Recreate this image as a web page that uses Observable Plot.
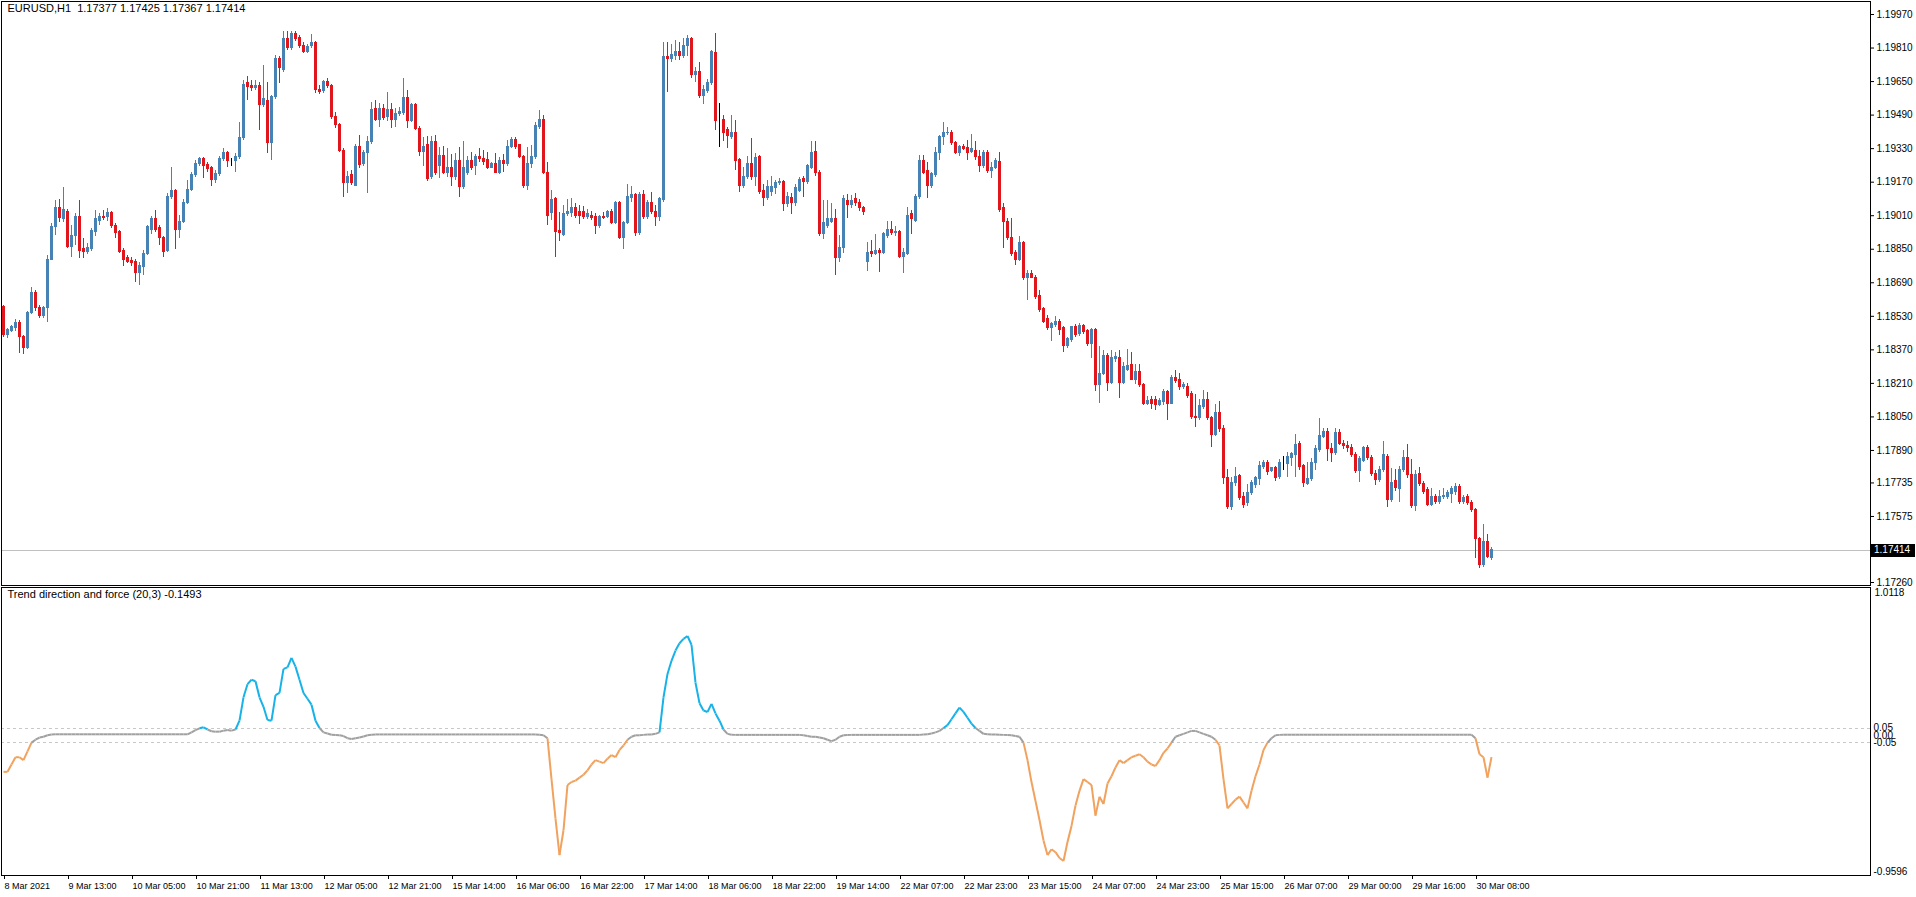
<!DOCTYPE html>
<html><head><meta charset="utf-8">
<script src="https://cdn.jsdelivr.net/npm/d3@7"></script>
<script src="https://cdn.jsdelivr.net/npm/@observablehq/plot@0.6"></script>
<style>
html,body{margin:0;padding:0;background:#fff;}
#chart{width:1916px;height:897px;overflow:hidden;background:#fff;}
#chart svg{display:block;}
</style></head><body><div id="chart"></div>
<script>
const symbol = "EURUSD,H1";
const headerValues = ["1.17377", "1.17425", "1.17367", "1.17414"];
const indicatorName = "Trend direction and force (20,3)";
const indicatorLast = "-0.1493";

const opens = [
1.18573,1.18439,1.18458,1.18472,1.18500,1.18430,1.18377,1.18544,1.18643,1.18568,
1.18530,1.18568,1.18801,1.18954,1.19045,1.18992,1.19030,1.18863,1.18911,1.19002,
1.18849,1.18839,1.18849,1.18930,1.18987,1.19006,1.19002,1.19021,1.18963,1.18930,
1.18844,1.18806,1.18796,1.18791,1.18739,1.18763,1.18829,1.18944,1.18992,1.18949,
1.18902,1.18844,1.19097,1.19126,1.18944,1.18982,1.19073,1.19135,1.19202,1.19259,
1.19279,1.19250,1.19236,1.19178,1.19207,1.19279,1.19307,1.19264,1.19269,1.19288,
1.19379,1.19641,1.19627,1.19617,1.19631,1.19536,1.19555,1.19355,1.19574,1.19760,
1.19703,1.19851,1.19808,1.19879,1.19856,1.19822,1.19793,1.19818,1.19832,1.19612,
1.19603,1.19646,1.19627,1.19479,1.19441,1.19321,1.19164,1.19202,1.19154,1.19336,
1.19255,1.19307,1.19360,1.19517,1.19469,1.19517,1.19479,1.19512,1.19469,1.19493,
1.19498,1.19570,1.19464,1.19536,1.19426,1.19316,1.19345,1.19193,1.19360,1.19245,
1.19293,1.19212,1.19240,1.19193,1.19269,1.19145,1.19216,1.19269,1.19245,1.19288,
1.19279,1.19274,1.19240,1.19255,1.19216,1.19269,1.19255,1.19336,1.19369,1.19345,
1.19288,1.19150,1.19259,1.19288,1.19431,1.19469,1.19216,1.19021,1.19088,1.18935,
1.18916,1.19016,1.19021,1.19045,1.19026,1.19026,1.19002,1.19011,1.19006,1.18959,
1.19006,1.19006,1.19030,1.18973,1.19069,1.18902,1.18973,1.19093,1.19107,1.18926,
1.19111,1.19002,1.19073,1.19030,1.19002,1.19083,1.19765,1.19760,1.19774,1.19793,
1.19774,1.19818,1.19851,1.19679,1.19698,1.19579,1.19603,1.19641,1.19784,1.19464,
1.19469,1.19417,1.19384,1.19403,1.19274,1.19154,1.19193,1.19255,1.19193,1.19288,
1.19126,1.19093,1.19121,1.19140,1.19164,1.19169,1.19064,1.19093,1.19073,1.19130,
1.19183,1.19169,1.19240,1.19316,1.19216,1.18921,1.18963,1.18982,1.18992,1.18806,
1.18854,1.19078,1.19059,1.19088,1.19073,1.19045,1.18787,1.18839,1.18829,1.18844,
1.18834,1.18911,1.18944,1.18926,1.18930,1.18815,1.18829,1.19016,1.18987,1.19097,
1.19269,1.19221,1.19154,1.19202,1.19307,1.19384,1.19403,1.19407,1.19355,1.19311,
1.19336,1.19331,1.19316,1.19321,1.19288,1.19245,1.19307,1.19221,1.19240,1.19264,
1.19045,1.18978,1.18902,1.18834,1.18801,1.18878,1.18715,1.18730,1.18715,1.18629,
1.18563,1.18515,1.18472,1.18487,1.18505,1.18472,1.18386,1.18415,1.18477,1.18444,
1.18482,1.18458,1.18396,1.18463,1.18200,1.18257,1.18343,1.18214,1.18324,1.18329,
1.18214,1.18276,1.18300,1.18228,1.18262,1.18200,1.18114,1.18129,1.18129,1.18105,
1.18119,1.18167,1.18114,1.18238,1.18224,1.18195,1.18195,1.18157,1.18052,1.18043,
1.18095,1.18133,1.18043,1.17966,1.18067,1.17990,1.17757,1.17618,1.17733,1.17766,
1.17666,1.17637,1.17685,1.17723,1.17752,1.17809,1.17832,1.17790,1.17804,1.17761,
1.17828,1.17823,1.17856,1.17866,1.17923,1.17814,1.17728,1.17752,1.17828,1.17890,
1.17956,1.17980,1.17895,1.17880,1.17971,1.17923,1.17909,1.17904,1.17866,1.17790,
1.17842,1.17900,1.17856,1.17780,1.17747,1.17795,1.17861,1.17656,1.17742,1.17704,
1.17795,1.17852,1.17771,1.17623,1.17776,1.17728,1.17699,1.17628,1.17666,1.17642,
1.17666,1.17666,1.17680,1.17690,1.17718,1.17642,1.17666,1.17637,1.17604,1.17466,
1.17342,1.17451,1.17377];

const highs = [
1.18582,1.18472,1.18487,1.18515,1.18510,1.18439,1.18553,1.18667,1.18653,1.18582,
1.18577,1.18820,1.18973,1.19083,1.19088,1.19145,1.19040,1.18963,1.19021,1.19083,
1.18902,1.18878,1.18949,1.19035,1.19021,1.19035,1.19045,1.19030,1.18973,1.18940,
1.18854,1.18820,1.18811,1.18801,1.18787,1.18844,1.18963,1.19006,1.19035,1.18963,
1.18911,1.19116,1.19240,1.19135,1.19011,1.19088,1.19178,1.19216,1.19274,1.19288,
1.19288,1.19264,1.19245,1.19226,1.19293,1.19331,1.19316,1.19283,1.19307,1.19455,
1.19655,1.19674,1.19655,1.19655,1.19645,1.19727,1.19645,1.19584,1.19774,1.19769,
1.19889,1.19889,1.19889,1.19889,1.19870,1.19837,1.19827,1.19875,1.19841,1.19631,
1.19655,1.19665,1.19636,1.19503,1.19450,1.19331,1.19221,1.19226,1.19350,1.19393,
1.19321,1.19388,1.19550,1.19560,1.19545,1.19541,1.19598,1.19545,1.19522,1.19526,
1.19665,1.19608,1.19545,1.19545,1.19436,1.19384,1.19388,1.19388,1.19393,1.19336,
1.19340,1.19331,1.19302,1.19307,1.19336,1.19364,1.19293,1.19311,1.19302,1.19331,
1.19321,1.19311,1.19264,1.19307,1.19288,1.19302,1.19369,1.19384,1.19384,1.19350,
1.19298,1.19336,1.19345,1.19455,1.19512,1.19488,1.19264,1.19130,1.19097,1.19026,
1.19059,1.19088,1.19093,1.19069,1.19059,1.19054,1.19040,1.19030,1.19021,1.19011,
1.19026,1.19035,1.19040,1.19078,1.19078,1.18982,1.19159,1.19150,1.19116,1.19121,
1.19130,1.19083,1.19121,1.19059,1.19097,1.19837,1.19837,1.19827,1.19846,1.19837,
1.19856,1.19870,1.19860,1.19717,1.19741,1.19631,1.19660,1.19798,1.19879,1.19545,
1.19488,1.19431,1.19488,1.19464,1.19283,1.19240,1.19293,1.19379,1.19307,1.19298,
1.19159,1.19178,1.19197,1.19178,1.19188,1.19178,1.19121,1.19116,1.19159,1.19193,
1.19197,1.19255,1.19364,1.19364,1.19226,1.19083,1.19083,1.19069,1.19040,1.18916,
1.19107,1.19111,1.19107,1.19116,1.19088,1.19054,1.18882,1.18892,1.18921,1.18854,
1.18930,1.18982,1.18982,1.18959,1.18940,1.18854,1.19049,1.19035,1.19111,1.19298,
1.19298,1.19264,1.19216,1.19336,1.19393,1.19455,1.19431,1.19417,1.19364,1.19345,
1.19350,1.19369,1.19398,1.19364,1.19321,1.19321,1.19321,1.19264,1.19283,1.19311,
1.19069,1.18997,1.18997,1.18844,1.18911,1.18887,1.18749,1.18749,1.18725,1.18653,
1.18573,1.18534,1.18500,1.18530,1.18515,1.18482,1.18430,1.18482,1.18491,1.18496,
1.18491,1.18467,1.18472,1.18472,1.18386,1.18367,1.18353,1.18367,1.18357,1.18367,
1.18310,1.18372,1.18357,1.18300,1.18300,1.18209,1.18148,1.18148,1.18148,1.18138,
1.18181,1.18176,1.18248,1.18272,1.18257,1.18214,1.18209,1.18171,1.18157,1.18133,
1.18176,1.18167,1.18052,1.18109,1.18124,1.18009,1.17799,1.17761,1.17809,1.17776,
1.17690,1.17728,1.17747,1.17766,1.17837,1.17842,1.17842,1.17809,1.17814,1.17847,
1.17861,1.17880,1.17880,1.17966,1.17933,1.17823,1.17832,1.17851,1.17914,1.18043,
1.17995,1.17995,1.17923,1.17995,1.17990,1.17938,1.17933,1.17918,1.17880,1.17861,
1.17909,1.17914,1.17866,1.17795,1.17814,1.17933,1.17871,1.17804,1.17799,1.17814,
1.17890,1.17918,1.17847,1.17795,1.17809,1.17742,1.17713,1.17709,1.17680,1.17699,
1.17709,1.17699,1.17718,1.17733,1.17728,1.17675,1.17680,1.17652,1.17614,1.17475,
1.17537,1.17489,1.17425];

const lows = [
1.18430,1.18425,1.18453,1.18458,1.18353,1.18348,1.18372,1.18539,1.18553,1.18520,
1.18520,1.18500,1.18796,1.18916,1.18978,1.18978,1.18854,1.18811,1.18868,1.18806,
1.18806,1.18825,1.18839,1.18911,1.18963,1.18987,1.18982,1.18949,1.18902,1.18829,
1.18768,1.18782,1.18768,1.18691,1.18677,1.18725,1.18820,1.18921,1.18930,1.18868,
1.18811,1.18834,1.19088,1.18849,1.18902,1.18973,1.19064,1.19126,1.19193,1.19245,
1.19188,1.19216,1.19150,1.19164,1.19197,1.19269,1.19240,1.19245,1.19216,1.19279,
1.19369,1.19560,1.19603,1.19608,1.19417,1.19526,1.19307,1.19274,1.19565,1.19641,
1.19693,1.19798,1.19798,1.19841,1.19808,1.19784,1.19784,1.19808,1.19594,1.19589,
1.19594,1.19617,1.19469,1.19426,1.19311,1.19097,1.19116,1.19154,1.19150,1.19236,
1.19245,1.19116,1.19350,1.19460,1.19431,1.19464,1.19460,1.19426,1.19431,1.19484,
1.19488,1.19426,1.19455,1.19417,1.19293,1.19245,1.19173,1.19183,1.19202,1.19188,
1.19207,1.19193,1.19150,1.19178,1.19097,1.19135,1.19202,1.19226,1.19202,1.19264,
1.19250,1.19231,1.19236,1.19212,1.19207,1.19216,1.19245,1.19331,1.19326,1.19283,
1.19140,1.19130,1.19236,1.19279,1.19422,1.19207,1.18963,1.18987,1.18811,1.18887,
1.18911,1.19006,1.19002,1.18997,1.18968,1.18992,1.18992,1.18987,1.18921,1.18949,
1.18992,1.18997,1.18968,1.18968,1.18897,1.18849,1.18968,1.19073,1.18911,1.18916,
1.18992,1.18992,1.19016,1.18959,1.18982,1.19073,1.19598,1.19741,1.19751,1.19751,
1.19760,1.19769,1.19665,1.19646,1.19570,1.19541,1.19594,1.19631,1.19417,1.19336,
1.19364,1.19331,1.19374,1.19226,1.19121,1.19140,1.19183,1.19178,1.19150,1.19111,
1.19054,1.19083,1.19102,1.19111,1.19154,1.19030,1.19049,1.19016,1.19054,1.19121,
1.19097,1.19159,1.19231,1.19197,1.18911,1.18897,1.18949,1.18973,1.18725,1.18787,
1.18829,1.18997,1.19045,1.19054,1.19030,1.19011,1.18744,1.18811,1.18820,1.18739,
1.18825,1.18902,1.18916,1.18911,1.18806,1.18734,1.18820,1.18921,1.18978,1.19088,
1.19207,1.19093,1.19140,1.19193,1.19274,1.19345,1.19393,1.19345,1.19302,1.19293,
1.19321,1.19274,1.19307,1.19274,1.19216,1.19236,1.19212,1.19188,1.19231,1.19026,
1.18854,1.18892,1.18815,1.18772,1.18791,1.18701,1.18606,1.18711,1.18611,1.18548,
1.18496,1.18463,1.18410,1.18477,1.18439,1.18357,1.18377,1.18405,1.18430,1.18434,
1.18444,1.18386,1.18329,1.18171,1.18114,1.18248,1.18171,1.18205,1.18310,1.18138,
1.18205,1.18267,1.18224,1.18205,1.18190,1.18105,1.18105,1.18086,1.18081,1.18100,
1.18105,1.18033,1.18109,1.18209,1.18176,1.18181,1.18138,1.18038,1.18000,1.18033,
1.18086,1.18033,1.17904,1.17956,1.17975,1.17728,1.17609,1.17604,1.17718,1.17652,
1.17614,1.17623,1.17675,1.17709,1.17723,1.17799,1.17771,1.17785,1.17742,1.17752,
1.17795,1.17761,1.17814,1.17761,1.17795,1.17713,1.17723,1.17742,1.17795,1.17880,
1.17947,1.17837,1.17832,1.17866,1.17914,1.17895,1.17880,1.17856,1.17780,1.17737,
1.17832,1.17842,1.17766,1.17723,1.17737,1.17785,1.17618,1.17642,1.17695,1.17642,
1.17785,1.17757,1.17614,1.17599,1.17718,1.17680,1.17623,1.17623,1.17633,1.17633,
1.17656,1.17656,1.17637,1.17675,1.17633,1.17633,1.17628,1.17594,1.17375,1.17327,
1.17332,1.17375,1.17367];

const closes = [
1.18439,1.18463,1.18477,1.18500,1.18430,1.18377,1.18544,1.18643,1.18568,1.18530,
1.18568,1.18801,1.18954,1.19045,1.18997,1.19035,1.18863,1.18911,1.19002,1.18844,
1.18839,1.18854,1.18935,1.18992,1.19006,1.18997,1.19021,1.18963,1.18926,1.18839,
1.18801,1.18791,1.18782,1.18739,1.18768,1.18829,1.18954,1.18992,1.18940,1.18902,
1.18839,1.19097,1.19126,1.18944,1.18982,1.19073,1.19135,1.19202,1.19259,1.19279,
1.19245,1.19231,1.19178,1.19207,1.19279,1.19307,1.19269,1.19264,1.19288,1.19379,
1.19636,1.19622,1.19617,1.19631,1.19536,1.19565,1.19355,1.19574,1.19760,1.19713,
1.19851,1.19808,1.19879,1.19851,1.19818,1.19793,1.19813,1.19832,1.19608,1.19598,
1.19646,1.19627,1.19479,1.19441,1.19321,1.19164,1.19197,1.19164,1.19340,1.19250,
1.19307,1.19360,1.19512,1.19469,1.19517,1.19474,1.19512,1.19469,1.19493,1.19507,
1.19570,1.19464,1.19536,1.19422,1.19316,1.19340,1.19183,1.19360,1.19212,1.19293,
1.19216,1.19240,1.19193,1.19269,1.19145,1.19236,1.19269,1.19240,1.19288,1.19279,
1.19264,1.19240,1.19255,1.19216,1.19269,1.19255,1.19336,1.19369,1.19336,1.19288,
1.19150,1.19259,1.19288,1.19436,1.19469,1.19216,1.19011,1.19083,1.18930,1.18926,
1.19016,1.19030,1.19045,1.19011,1.19011,1.19006,1.19016,1.18997,1.18959,1.19002,
1.18997,1.19026,1.18973,1.19069,1.18902,1.18973,1.19097,1.19107,1.18926,1.19107,
1.19002,1.19069,1.19026,1.19002,1.19088,1.19765,1.19756,1.19779,1.19793,1.19774,
1.19818,1.19851,1.19679,1.19698,1.19579,1.19608,1.19641,1.19789,1.19460,1.19464,
1.19407,1.19388,1.19403,1.19269,1.19154,1.19193,1.19255,1.19193,1.19283,1.19121,
1.19093,1.19145,1.19145,1.19164,1.19169,1.19064,1.19097,1.19073,1.19140,1.19178,
1.19169,1.19245,1.19311,1.19216,1.18921,1.18973,1.18992,1.18992,1.18806,1.18854,
1.19088,1.19059,1.19078,1.19069,1.19045,1.19026,1.18834,1.18829,1.18844,1.18834,
1.18921,1.18944,1.18926,1.18930,1.18815,1.18834,1.19011,1.18992,1.19097,1.19269,
1.19216,1.19154,1.19207,1.19311,1.19384,1.19407,1.19407,1.19355,1.19311,1.19336,
1.19326,1.19311,1.19326,1.19288,1.19245,1.19307,1.19221,1.19240,1.19269,1.19035,
1.18978,1.18902,1.18829,1.18801,1.18878,1.18715,1.18730,1.18715,1.18620,1.18558,
1.18505,1.18472,1.18491,1.18505,1.18467,1.18386,1.18420,1.18477,1.18439,1.18482,
1.18453,1.18396,1.18463,1.18200,1.18257,1.18343,1.18214,1.18329,1.18334,1.18214,
1.18286,1.18295,1.18228,1.18262,1.18200,1.18114,1.18124,1.18114,1.18105,1.18124,
1.18167,1.18114,1.18238,1.18219,1.18195,1.18200,1.18152,1.18048,1.18043,1.18100,
1.18133,1.18043,1.17966,1.18067,1.17990,1.17757,1.17618,1.17733,1.17761,1.17661,
1.17628,1.17685,1.17733,1.17757,1.17814,1.17828,1.17785,1.17804,1.17757,1.17828,
1.17828,1.17861,1.17871,1.17918,1.17809,1.17733,1.17752,1.17828,1.17895,1.17961,
1.17980,1.17895,1.17880,1.17971,1.17923,1.17909,1.17900,1.17866,1.17790,1.17847,
1.17904,1.17856,1.17776,1.17747,1.17799,1.17866,1.17656,1.17737,1.17709,1.17799,
1.17852,1.17771,1.17623,1.17771,1.17728,1.17690,1.17628,1.17666,1.17642,1.17666,
1.17671,1.17685,1.17704,1.17718,1.17642,1.17661,1.17637,1.17604,1.17466,1.17342,
1.17451,1.17384,1.17414];

// Trend direction and force (20,3) value per bar
const tdf = [
-0.25,-0.25,-0.20,-0.15,-0.15,-0.17,-0.11,-0.05,-0.03,-0.015,
-0.01,0.0,0.005,0.007,0.007,0.007,0.007,0.007,0.007,0.007,
0.007,0.007,0.007,0.007,0.007,0.007,0.007,0.007,0.007,0.007,
0.007,0.007,0.007,0.007,0.007,0.007,0.007,0.007,0.007,0.007,
0.007,0.007,0.007,0.007,0.007,0.007,0.007,0.02,0.035,0.048,
0.055,0.04,0.028,0.025,0.025,0.032,0.036,0.032,0.04,0.10,
0.26,0.35,0.38,0.37,0.26,0.195,0.105,0.10,0.275,0.29,
0.455,0.465,0.53,0.47,0.38,0.29,0.25,0.21,0.10,0.05,
0.02,0.012,0.004,0.002,0.0,-0.005,-0.02,-0.025,-0.02,-0.015,
-0.008,0.0,0.004,0.006,0.006,0.006,0.006,0.006,0.006,0.006,
0.006,0.006,0.006,0.006,0.006,0.006,0.006,0.006,0.006,0.006,
0.006,0.006,0.006,0.006,0.006,0.006,0.006,0.006,0.006,0.006,
0.006,0.006,0.006,0.006,0.006,0.006,0.006,0.006,0.006,0.006,
0.006,0.006,0.006,0.006,0.004,0.0,-0.02,-0.30,-0.57,-0.82,
-0.65,-0.34,-0.32,-0.31,-0.29,-0.27,-0.24,-0.20,-0.17,-0.18,
-0.19,-0.16,-0.135,-0.15,-0.10,-0.07,-0.03,-0.01,0.0,0.0,
0.003,0.005,0.006,0.01,0.02,0.26,0.42,0.51,0.58,0.63,
0.66,0.68,0.62,0.36,0.22,0.17,0.16,0.215,0.15,0.10,
0.04,0.01,0.004,0.003,0.003,0.003,0.003,0.003,0.003,0.003,
0.003,0.003,0.003,0.003,0.003,0.003,0.003,0.003,0.003,0.003,
0.0,-0.005,-0.01,-0.01,-0.015,-0.02,-0.03,-0.04,-0.03,-0.01,
0.0,0.002,0.003,0.003,0.003,0.003,0.003,0.003,0.003,0.003,
0.003,0.003,0.003,0.003,0.003,0.003,0.003,0.003,0.003,0.003,
0.005,0.008,0.012,0.02,0.03,0.05,0.07,0.11,0.15,0.19,
0.16,0.12,0.08,0.05,0.03,0.01,0.008,0.006,0.005,0.004,
0.003,0.002,0.0,-0.005,-0.01,-0.05,-0.17,-0.32,-0.45,-0.58,
-0.72,-0.82,-0.78,-0.80,-0.84,-0.86,-0.73,-0.62,-0.48,-0.38,
-0.30,-0.32,-0.34,-0.55,-0.42,-0.47,-0.33,-0.28,-0.22,-0.17,
-0.19,-0.17,-0.15,-0.14,-0.13,-0.15,-0.18,-0.20,-0.21,-0.17,
-0.12,-0.09,-0.05,-0.01,0.0,0.01,0.02,0.03,0.03,0.02,
0.01,0.0,-0.01,-0.03,-0.07,-0.30,-0.50,-0.47,-0.44,-0.42,
-0.46,-0.50,-0.38,-0.28,-0.20,-0.10,-0.05,-0.02,0.0,0.003,
0.004,0.004,0.004,0.004,0.004,0.004,0.004,0.004,0.004,0.004,
0.004,0.004,0.004,0.004,0.004,0.004,0.004,0.004,0.004,0.004,
0.004,0.004,0.004,0.004,0.004,0.004,0.004,0.004,0.004,0.004,
0.004,0.004,0.004,0.004,0.004,0.004,0.004,0.004,0.004,0.004,
0.004,0.004,0.004,0.004,0.004,0.004,0.004,0.004,-0.02,-0.13,
-0.15,-0.29,-0.1493];

const timeLabels = ["8 Mar 2021","9 Mar 13:00","10 Mar 05:00","10 Mar 21:00","11 Mar 13:00","12 Mar 05:00",
  "12 Mar 21:00","15 Mar 14:00","16 Mar 06:00","16 Mar 22:00","17 Mar 14:00","18 Mar 06:00","18 Mar 22:00",
  "19 Mar 14:00","22 Mar 07:00","22 Mar 23:00","23 Mar 15:00","24 Mar 07:00","24 Mar 23:00","25 Mar 15:00",
  "26 Mar 07:00","29 Mar 00:00","29 Mar 16:00","30 Mar 08:00"];
const timeTickBars = [0,16,32,48,64,80,96,112,128,144,160,176,192,208,224,240,256,272,288,304,320,336,352,368];
const priceTicks = [1.19970,1.19810,1.19650,1.19490,1.19330,1.19170,1.19010,1.18850,1.18690,
  1.18530,1.18370,1.18210,1.18050,1.17890,1.17735,1.17575,1.17260];
const tdfLevels = [0.05, -0.05];
const tdfLabels = [0.05, 0.00, -0.05];
const tdfMax = 1.0118, tdfMin = -0.9596;

const upColor = "#4682B4", downColor = "#E0161C", dojiColor = "#000000";
const blueLine = "#17B2E8", orangeLine = "#F0A25E", grayLine = "#A0A0A0";

const W = 1916;
const xDomain = [-0.5, 466.75];
const font = "'Liberation Sans', Arial, sans-serif";

const bars = closes.map((c, i) => ({
  i, o: opens[i], h: highs[i], l: lows[i], c,
  col: c > opens[i] ? upColor : c < opens[i] ? downColor : dojiColor
}));

const main = Plot.plot({
  width: W, height: 586,
  marginLeft: 1, marginRight: 46, marginTop: 1, marginBottom: 1,
  x: {type: "linear", domain: xDomain, axis: null},
  y: {domain: [1.17260, 1.19970], range: [582, 14]},
  color: {type: "identity"},
  style: {fontFamily: font, fontSize: "10px", color: "#000", background: "#fff", overflow: "visible"},
  marks: [
    Plot.ruleY([closes[closes.length - 1]], {stroke: "#C0C0C0", shapeRendering: "crispEdges"}),
    Plot.ruleX(bars, {x: "i", y1: "l", y2: "h", stroke: "col", shapeRendering: "crispEdges"}),
    Plot.rect(bars, {x1: d => d.i - 0.25, x2: d => d.i + 0.25, y1: "o", y2: "c", fill: "col", stroke: "col", strokeWidth: 1, shapeRendering: "crispEdges"}),
    Plot.frame({stroke: "#000", shapeRendering: "crispEdges"}),
    Plot.axisY(priceTicks, {anchor: "right", tickSize: 3, tickPadding: 3, tickFormat: d => d.toFixed(5), label: null, fontSize: 10}),
    Plot.text([`${symbol}\u00A0 ${headerValues.join(" ")}`], {frameAnchor: "top-left", textAnchor: "start", lineAnchor: "top", dx: 6, dy: 3, fontSize: 11, fill: "#000"})
  ]
});

// current price marker on the price axis
{
  const last = closes[closes.length - 1];
  const yPx = main.scale("y").apply(last);
  const g = d3.select(main).append("g");
  g.append("rect").attr("x", 1871).attr("y", Math.round(yPx) - 6).attr("width", 44).attr("height", 13).attr("fill", "#000");
  g.append("text").attr("x", 1874).attr("y", yPx).attr("dy", "0.35em").attr("fill", "#fff")
    .attr("text-anchor", "start")
    .attr("font-family", font).attr("font-size", 10).text(last.toFixed(5));
}

const segs = tdf.slice(1).map((v, k) => {
  const a = tdf[k];
  const hi = Math.max(a, v), lo = Math.min(a, v);
  return {x1: k, y1: a, x2: k + 1, y2: v, col: hi > 0.05 ? blueLine : lo < -0.05 ? orangeLine : grayLine};
});

const ind = Plot.plot({
  width: W, height: 311,
  marginLeft: 1, marginRight: 46, marginTop: 1, marginBottom: 22,
  x: {type: "linear", domain: xDomain},
  y: {domain: [tdfMin, tdfMax]},
  color: {type: "identity"},
  style: {fontFamily: font, fontSize: "10px", color: "#000", background: "#fff", overflow: "visible"},
  marks: [
    Plot.ruleY(tdfLevels, {stroke: "#C8C8C8", strokeDasharray: "3,3", shapeRendering: "crispEdges"}),
    Plot.link(segs, {x1: "x1", y1: "y1", x2: "x2", y2: "y2", stroke: "col", strokeWidth: 2}),
    Plot.frame({stroke: "#000", shapeRendering: "crispEdges"}),
    Plot.axisX(timeTickBars, {anchor: "bottom", tickSize: 4, tickPadding: 3, textAnchor: "start", dx: 1,
      tickFormat: d => timeLabels[timeTickBars.indexOf(d)], label: null, fontSize: 9}),
    Plot.axisY(tdfLabels, {anchor: "right", tickSize: 0, tickPadding: 3, tickFormat: d => d.toFixed(2), label: null, fontSize: 10}),
    Plot.text([tdfMax], {frameAnchor: "right", y: d => d, text: d => d.toFixed(4), textAnchor: "start", lineAnchor: "top", dx: 4, dy: 1, fontSize: 10}),
    Plot.text([tdfMin], {frameAnchor: "right", y: d => d, text: d => d.toFixed(4), textAnchor: "start", lineAnchor: "bottom", dx: 3, dy: -1, fontSize: 10}),
    Plot.text([`${indicatorName} ${indicatorLast}`], {frameAnchor: "top-left", textAnchor: "start", lineAnchor: "top", dx: 6, dy: 3, fontSize: 11, fill: "#000"})
  ]
});

const root = document.getElementById("chart");
root.appendChild(main);
root.appendChild(ind);
</script>
</body></html>
